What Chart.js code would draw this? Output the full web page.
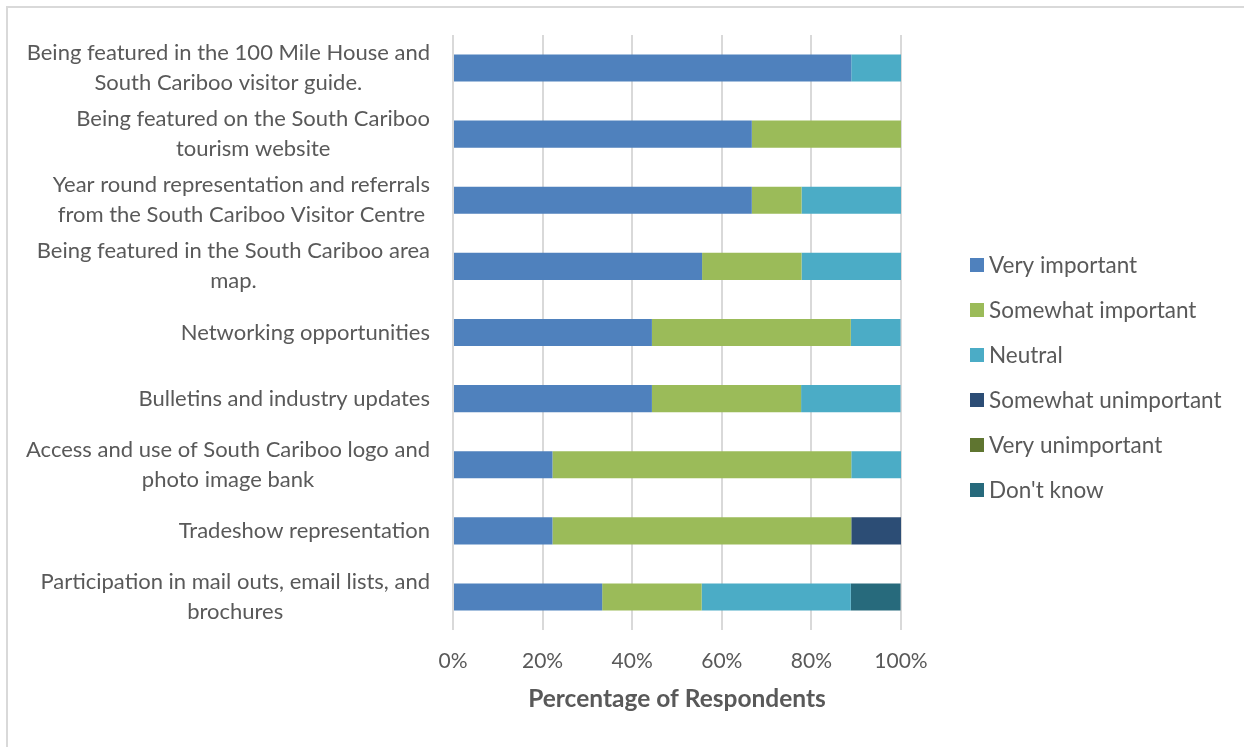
<!DOCTYPE html>
<html>
<head>
<meta charset="utf-8">
<script src="https://cdn.jsdelivr.net/npm/chart.js@4"></script>
<style>
html,body{margin:0;padding:0;background:#fff;}
#wrap{position:relative;width:1244px;height:747px;}
</style>
</head>
<body>
<div id="wrap"><canvas id="c" width="1244" height="747"></canvas></div>
<script>
const categories = [
  ["Being featured in the 100 Mile House and", "South Cariboo visitor guide."],
  ["Being featured on the South Cariboo", "tourism website"],
  ["Year round representation and referrals", "from the South Cariboo Visitor Centre"],
  ["Being featured in the South Cariboo area", "map."],
  ["Networking opportunities"],
  ["Bulletins and industry updates"],
  ["Access and use of South Cariboo logo and", "photo image bank"],
  ["Tradeshow representation"],
  ["Participation in mail outs, email lists, and", "brochures"]
];
const seriesNames = ["Very important", "Somewhat important", "Neutral", "Somewhat unimportant", "Very unimportant", "Don't know"];
const veryImportant       = [88.9, 66.7, 66.7, 55.6, 44.4, 44.4, 22.2, 22.2, 33.3];
const somewhatImportant   = [0,    33.3, 11.1, 22.2, 44.4, 33.3, 66.7, 66.7, 22.2];
const neutral             = [11.1, 0,    22.2, 22.2, 11.1, 22.2, 11.1, 0,    33.3];
const somewhatUnimportant = [0,    0,    0,    0,    0,    0,    0,    11.1, 0];
const veryUnimportant     = [0,    0,    0,    0,    0,    0,    0,    0,    0];
const dontKnow            = [0,    0,    0,    0,    0,    0,    0,    0,    11.1];
const xTicks = [0, 20, 40, 60, 80, 100];
const colors = ["#4F81BD", "#9BBB59", "#4BACC6", "#2C4D75", "#5F7530", "#276A7C"];

const FONT = "Lato, 'Open Sans', sans-serif";
const TXT = "#595959";
const allSeries = [veryImportant, somewhatImportant, neutral, somewhatUnimportant, veryUnimportant, dontKnow];

const customDraw = {
  id: 'customDraw',
  beforeDraw(chart) {
    const ctx = chart.ctx;
    ctx.save();
    ctx.strokeStyle = '#d9d9d9';
    ctx.lineWidth = 2;
    ctx.beginPath();
    ctx.moveTo(7, 747); ctx.lineTo(7, 7); ctx.lineTo(1244, 7);
    ctx.stroke();
    ctx.restore();
  },
  afterDraw(chart) {
    const ctx = chart.ctx;
    const yScale = chart.scales.y;
    ctx.save();
    ctx.fillStyle = TXT;
    ctx.font = "22px " + FONT;
    ctx.textBaseline = 'middle';
    ctx.textAlign = 'center';
    const rightEdge = 430, lh = 30;
    categories.forEach((lines, i) => {
      const yc = yScale.getPixelForTick(i);
      const w = Math.max(...lines.map(l => ctx.measureText(l).width));
      const xc = rightEdge - w / 2;
      const y0 = yc - (lines.length - 1) * lh / 2;
      lines.forEach((l, j) => ctx.fillText(l, xc, y0 + j * lh));
    });
    // legend
    ctx.textAlign = 'left';
    const lx = 970, ly0 = 265, step = 45, box = 14;
    ctx.font = "22.5px " + FONT;
    seriesNames.forEach((n, i) => {
      const y = ly0 + i * step;
      ctx.fillStyle = colors[i];
      ctx.fillRect(lx, y - box / 2, box, box);
      ctx.fillStyle = TXT;
      ctx.fillText(n, 989, y + 1);
    });
    ctx.restore();
  }
};

new Chart(document.getElementById('c'), {
  type: 'bar',
  data: {
    labels: categories,
    datasets: seriesNames.map((n, i) => ({
      label: n,
      data: allSeries[i],
      backgroundColor: colors[i],
      borderWidth: 0,
      barPercentage: 0.41,
      categoryPercentage: 1.0
    }))
  },
  options: {
    indexAxis: 'y',
    responsive: false,
    animation: false,
    layout: { padding: { left: 0, right: 343, top: 35, bottom: 0 } },
    plugins: { legend: { display: false }, tooltip: { enabled: false } },
    scales: {
      x: {
        stacked: true,
        min: 0, max: 100,
        afterBuildTicks(scale) { scale.ticks = xTicks.map(v => ({ value: v })); },
        afterFit(scale) { scale.height = 117; },
        grid: { color: '#d9d9d9', lineWidth: 2, drawTicks: false, tickLength: 0 },
        border: { display: false },
        ticks: {
          color: TXT, font: { family: FONT, size: 21 }, padding: 19,
          callback: v => v + '%'
        },
        title: {
          display: true, text: 'Percentage of Respondents', color: TXT,
          font: { family: FONT, size: 24.5, weight: 'bold' },
          padding: { top: 0, bottom: 33 }
        }
      },
      y: {
        stacked: true,
        afterFit(scale) { scale.width = 453; },
        grid: { display: false },
        border: { display: false },
        ticks: { display: false }
      }
    }
  },
  plugins: [customDraw]
});
</script>
</body>
</html>
